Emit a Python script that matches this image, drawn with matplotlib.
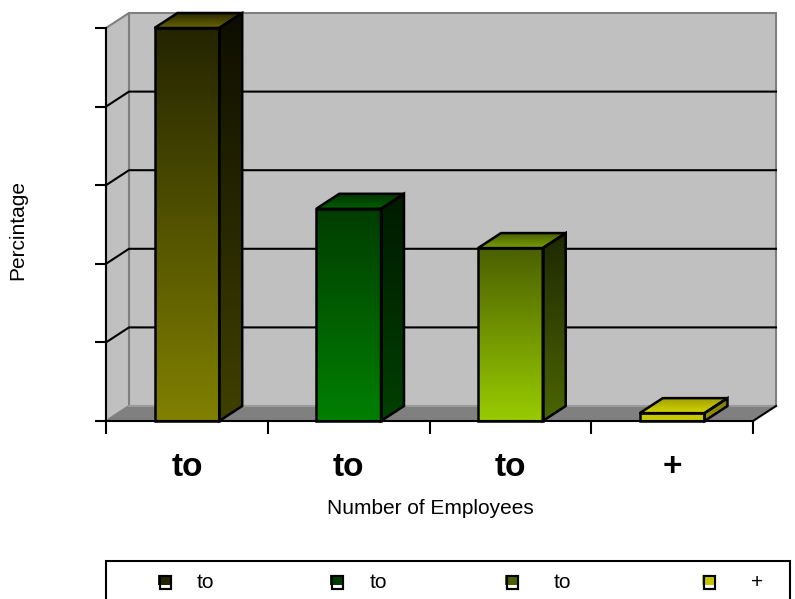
import numpy as np
import matplotlib.pyplot as plt
from matplotlib.patches import Polygon, Rectangle
from matplotlib.colors import LinearSegmentedColormap

plt.rcParams['font.family'] = ['Liberation Sans', 'DejaVu Sans']

# data (y axis carries no labels)
categories = ['to', 'to', 'to', '+']
values = [5.0, 2.70, 2.20, 0.10]

# colours of the faces (front: top -> bottom, side: top -> bottom, roof: back -> front)
front_top = ['#242400', '#003c00', '#4b6000', '#c4c400']
front_bot = ['#808000', '#008000', '#99cc00', '#cccc00']
side_top = ['#0e0e00', '#001a00', '#1f2800', '#7a7a00']
side_bot = ['#404000', '#004000', '#4a6600', '#999900']
roof_back = ['#2a2a00', '#003000', '#4a6000', '#a0a000']
roof_front = ['#6a6400', '#006000', '#7a9e00', '#d4d400']

W, H = 795, 599
fig = plt.figure(figsize=(W / 100, H / 100), dpi=100)
ax = fig.add_axes([106 / W, 1 - 421 / H, 647 / W, 393 / H])

ymax = 5
dx, dy = 23 / 161.75, 15 / 78.6   # depth of the 3d box in data units
x = np.arange(len(categories))
x0, x1 = -0.5, len(categories) - 0.5


def grad(patch, c_low, c_high, extent, z):
    cmap = LinearSegmentedColormap.from_list('g', [c_low, c_high])
    im = ax.imshow(np.linspace(0, 1, 128).reshape(-1, 1), cmap=cmap, extent=extent,
                   origin='lower', aspect='auto', interpolation='bilinear', zorder=z)
    im.set_clip_path(patch)
    im.set_clip_box(fig.bbox)


# walls and floor
ax.add_patch(Rectangle((x0 + dx, dy), x1 - x0, ymax, fc='#c0c0c0', ec='#808080',
                       lw=1.5, clip_on=False, zorder=0))
ax.add_patch(Polygon([(x0, 0), (x0 + dx, dy), (x0 + dx, ymax + dy), (x0, ymax)],
                     closed=True, fc='#c0c0c0', ec='#808080', lw=1.5, clip_on=False, zorder=0))
ax.add_patch(Polygon([(x0, 0), (x1, 0), (x1 + dx, dy), (x0 + dx, dy)], closed=True,
                     fc='#808080', ec='none', clip_on=False, zorder=1))
ax.plot([x0 + dx, x1 + dx], [dy, dy], color='#a0a0a0', lw=1.2, clip_on=False, zorder=1)
ax.plot([x1, x1 + dx], [0, dy], color='black', lw=1.5, clip_on=False, zorder=1)

# gridlines across left and back wall
for k in range(1, ymax):
    ax.plot([x0, x0 + dx, x1 + dx], [k, k + dy, k + dy], color='black', lw=1.5,
            clip_on=False, zorder=2)

# bars
bars = ax.bar(x, values, width=0.4, color='none', edgecolor='black', linewidth=1.8,
              zorder=6, clip_on=False)
for i, b in enumerate(bars):
    bx, bw, bh = b.get_x(), b.get_width(), b.get_height()
    grad(b, front_bot[i], front_top[i], [bx, bx + bw, 0, bh], 4)
    side = Polygon([(bx + bw, 0), (bx + bw + dx, dy), (bx + bw + dx, bh + dy), (bx + bw, bh)],
                   closed=True, fc='none', ec='black', lw=1.8, clip_on=False, zorder=6)
    ax.add_patch(side)
    grad(side, side_bot[i], side_top[i], [bx + bw, bx + bw + dx, 0, bh + dy], 4)
    roof = Polygon([(bx, bh), (bx + bw, bh), (bx + bw + dx, bh + dy), (bx + dx, bh + dy)],
                   closed=True, fc='none', ec='black', lw=1.8, clip_on=False, zorder=6)
    ax.add_patch(roof)
    grad(roof, roof_front[i], roof_back[i], [bx, bx + bw + dx, bh, bh + dy], 4)

ax.set_xlim(x0, x1)
ax.set_ylim(0, ymax)

for s in ['top', 'right']:
    ax.spines[s].set_visible(False)
for s in ['left', 'bottom']:
    ax.spines[s].set_linewidth(1.5)
    ax.spines[s].set_zorder(7)

ax.set_yticks(range(ymax + 1))
ax.set_yticklabels([])
ax.tick_params(axis='y', length=8, width=1.5, direction='out')
ax.set_xticks(np.arange(x0, x1 + 0.1, 1))
ax.set_xticklabels([])
ax.tick_params(axis='x', which='major', length=9, width=1.5, direction='out')
ax.set_xticks(x, minor=True)
ax.set_xticklabels(categories, minor=True, fontsize=24, fontweight='bold')
ax.tick_params(axis='x', which='minor', length=0, pad=22)

fig.text(18 / W, 1 - 230 / H, 'Percintage', rotation=90, fontsize=15,
         ha='center', va='center')
fig.text(430 / W, 1 - 509 / H, 'Number of Employees', fontsize=15,
         ha='center', va='center')

# legend box
fig.patches.append(Rectangle((106 / W, -0.02), (790 - 106) / W, (599 - 561) / H + 0.02,
                             transform=fig.transFigure, fc='white', ec='black', lw=1.5))
mark_x = [158, 330, 505, 702]
text_x = [197, 370, 554, 751]
for i in range(len(categories)):
    mx = mark_x[i]
    fig.patches.append(Rectangle(((mx + 2) / W, 1 - 589 / H), 11 / W, 13 / H,
                                 transform=fig.transFigure, fc='white', ec='black', lw=1.5))
    fig.patches.append(Rectangle((mx / W, 1 - 585 / H), 12 / W, 10 / H,
                                 transform=fig.transFigure, fc=front_top[i], ec='none'))
    fig.patches.append(Rectangle(((mx + 2) / W, 1 - 589 / H), 11 / W, 13 / H,
                                 transform=fig.transFigure, fc='none', ec='black', lw=1.5))
    fig.text(text_x[i] / W, 1 - 583 / H, categories[i], fontsize=15, ha='left', va='center')

fig.savefig('out.png', dpi=100)
